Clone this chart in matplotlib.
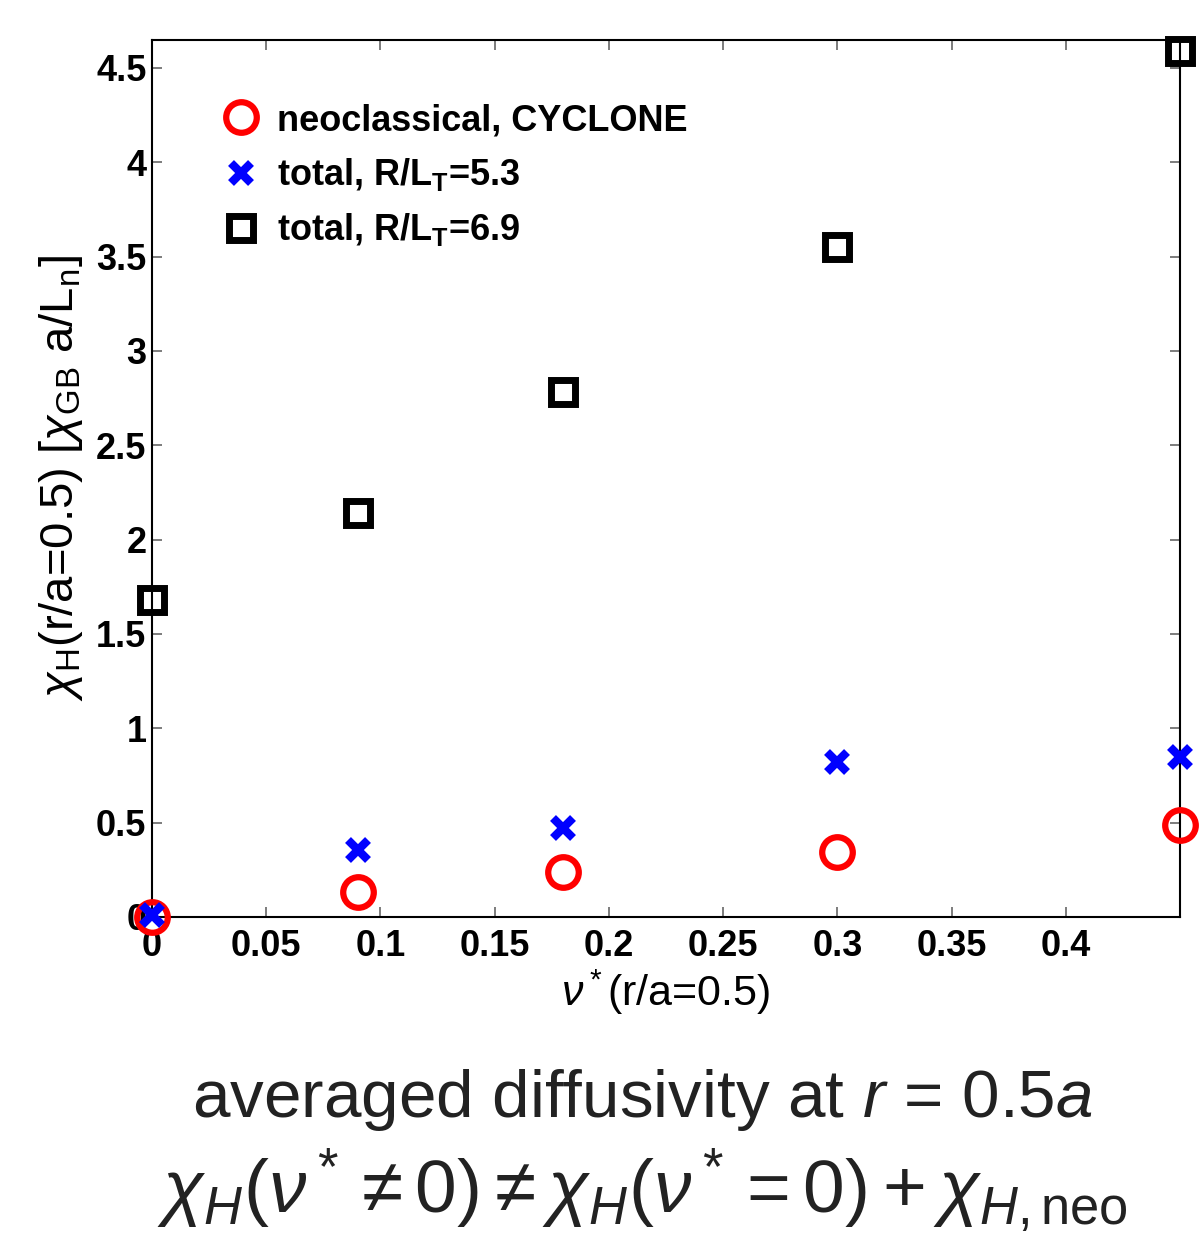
import numpy as np
import matplotlib
matplotlib.use('Agg')
import matplotlib.pyplot as plt

plt.rcParams['font.family'] = ['Liberation Sans', 'DejaVu Sans']
plt.rcParams['mathtext.fontset'] = 'custom'
plt.rcParams['mathtext.rm'] = 'Liberation Sans'
plt.rcParams['mathtext.it'] = 'Liberation Sans:italic'
plt.rcParams['mathtext.bf'] = 'Liberation Sans:bold'

# ----------------------------
# data
# ----------------------------
nu_star = [0.0, 0.09, 0.18, 0.30, 0.45]
chi_neo = [0.0, 0.13, 0.24, 0.345, 0.49]
chi_tot_53 = [0.01, 0.355, 0.47, 0.82, 0.85]
chi_tot_69 = [1.68, 2.14, 2.78, 3.55, 4.59]

xticks = [0, 0.05, 0.1, 0.15, 0.2, 0.25, 0.3, 0.35, 0.4, 0.45]
xticklabels = ['0', '0.05', '0.1', '0.15', '0.2', '0.25', '0.3', '0.35', '0.4', '']
yticks = [0, 0.5, 1, 1.5, 2, 2.5, 3, 3.5, 4, 4.5]
yticklabels = ['0', '0.5', '1', '1.5', '2', '2.5', '3', '3.5', '4', '4.5']

fig = plt.figure(figsize=(12.01, 12.33), dpi=100)
ax = fig.add_axes([0.1266, 0.2563, 0.8559, 0.7113])

ax.plot(nu_star, chi_neo, 'o', mfc='none', mec='#ff0000', ms=22, mew=4.5,
        clip_on=False, zorder=3, label='neoclassical, CYCLONE')
ax.plot(nu_star, chi_tot_53, 'x', color='#0000ff', ms=14, mew=6,
        clip_on=False, zorder=4, label=r'total, R/L$_\mathbf{T}$=5.3')
ax.plot(nu_star, chi_tot_69, 's', mfc='none', mec='black', ms=17, mew=5,
        clip_on=False, zorder=3, label=r'total, R/L$_\mathbf{T}$=6.9')

ax.set_xlim([0, 0.45])
ax.set_ylim([0, 4.648])
ax.set_xticks(xticks)
ax.set_xticklabels(xticklabels)
ax.set_yticks(yticks)
ax.set_yticklabels(yticklabels)
ax.tick_params(direction='in', length=7, width=1.2, color='#666666',
               top=True, right=True, labelsize=26, pad=9)
ax.tick_params(axis='y', pad=4)
for lab in ax.get_xticklabels() + ax.get_yticklabels():
    lab.set_fontweight('bold')
for sp in ax.spines.values():
    sp.set_linewidth(1.5)

ax.set_xlabel(r'$\nu^*$(r/a=0.5)', fontsize=31, labelpad=2)
ax.set_ylabel(r'$\chi_\mathrm{H}$(r/a=0.5) [$\chi_\mathrm{GB}$ a/L$_\mathrm{n}$]', fontsize=34, labelpad=8)

leg = ax.legend(loc='upper left', bbox_to_anchor=(0.069, 0.928), frameon=False,
                prop={'weight': 'bold', 'size': 26}, handlelength=1.0,
                handletextpad=0.5, labelspacing=0.5, borderaxespad=0, borderpad=0)

fig.text(0.535, 0.108, r'averaged diffusivity at $r$ = 0.5$a$', ha='center', va='center',
         fontsize=48.5, color='#222222')
fig.text(0.535, 0.034, r'$\chi_H(\nu^* \neq 0) \neq \chi_H(\nu^* = 0) + \chi_{H,\mathrm{neo}}$',
         ha='center', va='center', fontsize=54, color='#222222')

plt.savefig('out.png', dpi=100)
